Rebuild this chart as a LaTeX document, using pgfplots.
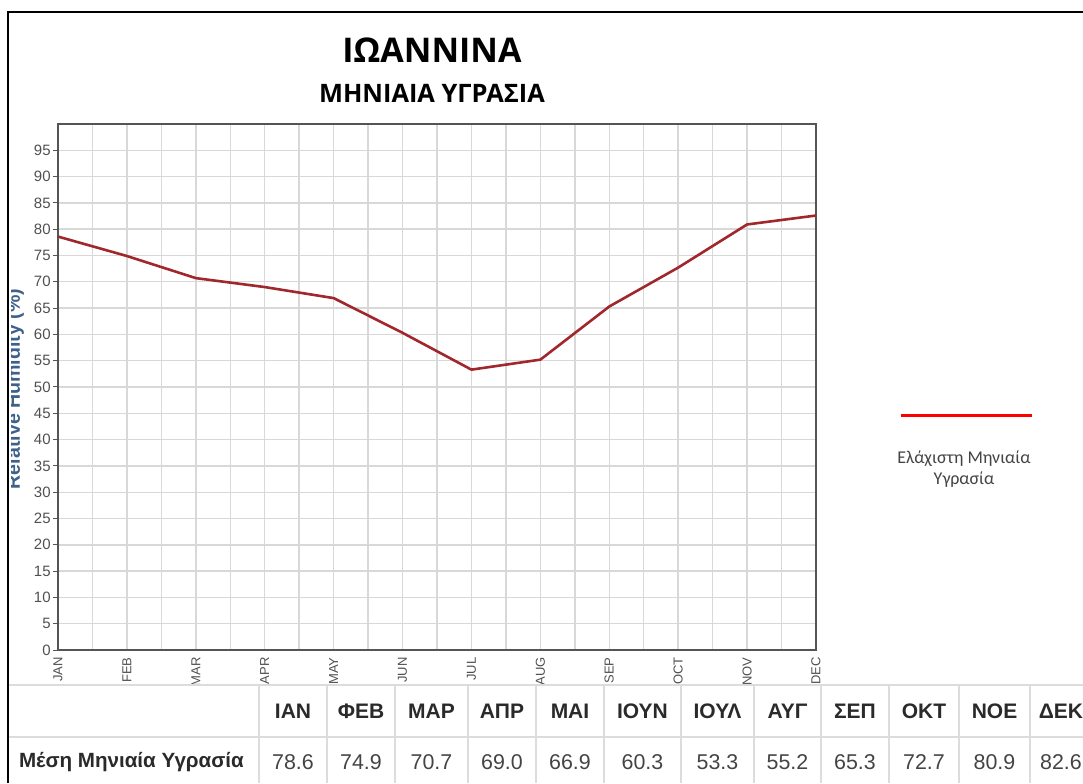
\documentclass[border=0pt]{standalone}
\usepackage{fontspec}
\setmainfont{Liberation Sans}
\newfontfamily\titlefont{Open Sans}
\newfontfamily\legfont{Carlito}
\usepackage{pgfplots}
\pgfplotsset{compat=1.18}
\definecolor{gridgray}{HTML}{D8D8D8}
\definecolor{axgray}{HTML}{555555}
\definecolor{ticktxt}{HTML}{505050}
\definecolor{linered}{HTML}{A0282D}
\definecolor{lblblue}{HTML}{3E6189}
\definecolor{tblline}{HTML}{DCDCDC}
\definecolor{tbltxt}{HTML}{2A2A2A}
\definecolor{valtxt}{HTML}{444444}

\begin{document}
\begin{tikzpicture}
\useasboundingbox (0,0) rectangle (541.5pt,391.5pt);

\begin{axis}[
  at={(29pt,66.5pt)}, anchor=south west, scale only axis,
  width=379pt, height=263pt,
  xmin=0, xmax=11, ymin=0, ymax=100,
  % half-month grid: every other tick is labelled
  xtick={0,0.5,...,11},
  xticklabels={JAN,,FEB,,MAR,,APR,,MAY,,JUN,,JUL,,AUG,,SEP,,OCT,,NOV,,DEC},
  ytick={0,5,...,95},
  grid=major,
  major grid style={gridgray, line width=0.7pt},
  axis line style={axgray, line width=1pt},
  tick pos=left,
  tick align=outside,
  x tick style={draw=none},
  y tick style={axgray, line width=0.5pt},
  major tick length=2.5pt,
  xticklabel style={rotate=90, anchor=east, font=\fontsize{6.5}{7}\selectfont, text=ticktxt, inner sep=1pt},
  yticklabel style={font=\fontsize{7.5}{8}\selectfont, text=ticktxt, inner sep=1pt},
  /pgf/number format/assume math mode=true,
  clip=false,
]
\addplot[linered, line width=1.3pt] coordinates {
  (0,78.6) (1,74.9) (2,70.7) (3,69.0) (4,66.9) (5,60.3)
  (6,53.3) (7,55.2) (8,65.3) (9,72.7) (10,80.9) (11,82.6)};
\end{axis}

% pixel coordinates, origin at top left
\begin{scope}[x=0.5pt, y=-0.5pt, shift={(0,391.5pt)}]
  % frame
  \draw[black, line width=1pt] (8,783) -- (8,12) -- (1083,12);
  % titles
  \node[font=\titlefont\bfseries\fontsize{17}{20}\selectfont] at (432,50) {ΙΩΑΝΝΙΝΑ};
  \node[font=\titlefont\bfseries\fontsize{12.7}{14}\selectfont] at (432,93) {ΜΗΝΙΑΙΑ ΥΓΡΑΣΙΑ};
  % y label, cut by the frame
  \begin{scope}
    \clip (11,100) rectangle (60,700);
    \node[rotate=90, anchor=base, text=lblblue, font=\bfseries\fontsize{9.8}{11}\selectfont]
      at (20,389) {Relative Humidity (\%)};
  \end{scope}
  % legend
  \draw[red, line width=1.5pt] (901,416) -- (1032,416);
  \node[align=center, text=valtxt, font=\legfont\fontsize{9}{10.5}\selectfont] at (964,469)
    {Ελάχιστη Μηνιαία\\Υγρασία};
  % table
  \draw[tblline, line width=1pt] (9,685) -- (1083,685) (9,737) -- (1083,737);
  \foreach \x in {259,327,395,468,536,604,681,754,821,889,959,1030}
    \draw[tblline, line width=1pt] (\x,685) -- (\x,783);
  \foreach \x/\m/\v in {293/ΙΑΝ/78.6, 361/ΦΕΒ/74.9, 431.5/ΜΑΡ/70.7, 502/ΑΠΡ/69.0,
      570/ΜΑΙ/66.9, 642.5/ΙΟΥΝ/60.3, 717.5/ΙΟΥΛ/53.3, 787.5/ΑΥΓ/55.2,
      855/ΣΕΠ/65.3, 924/ΟΚΤ/72.7, 994.5/ΝΟΕ/80.9, 1061/ΔΕΚ/82.6} {
    \node[text=tbltxt, font=\bfseries\fontsize{10.5}{12}\selectfont] at (\x,711) {\m};
    \node[text=valtxt, font=\fontsize{10.7}{12}\selectfont] at (\x,762) {\v};
  }
  \node[anchor=west, text=tbltxt, font=\bfseries\fontsize{10.3}{12}\selectfont] at (12,762)
    {Μέση Μηνιαία Υγρασία};
\end{scope}
\end{tikzpicture}
\end{document}
